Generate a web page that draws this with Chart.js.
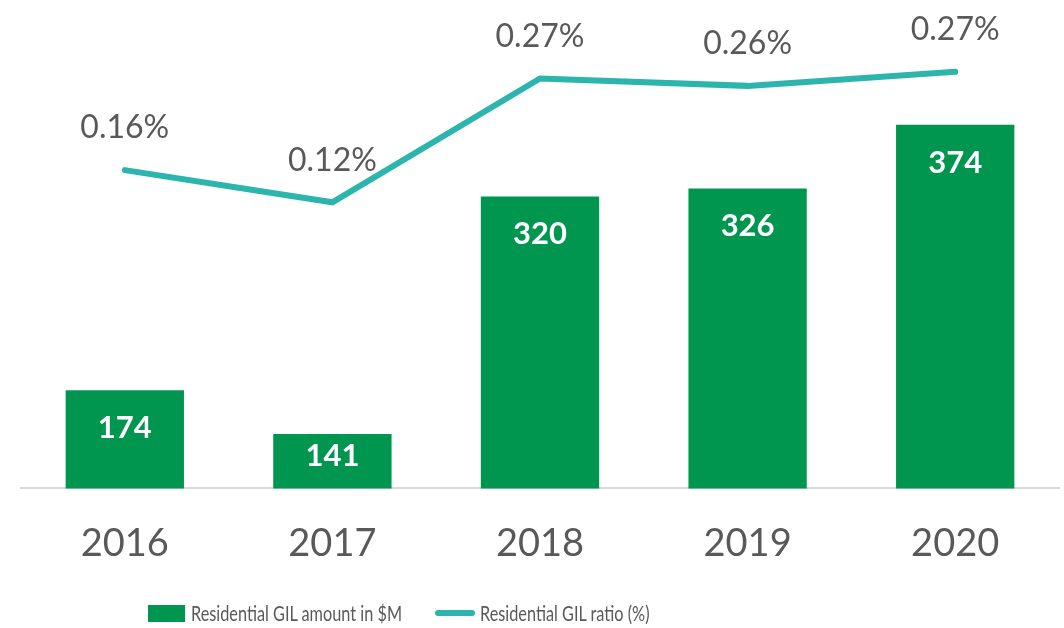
<!DOCTYPE html>
<html>
<head>
<meta charset="utf-8">
<script src="https://cdn.jsdelivr.net/npm/chart.js@4.4.1/dist/chart.umd.min.js"></script>
<style>
  html, body { margin: 0; padding: 0; background: #fff; }
  #wrap { position: relative; width: 1064px; height: 628px; }
  #legend { position: absolute; left: 0; top: 600px; width: 1064px; height: 26px;
            font-family: Lato, "Noto Sans", sans-serif; font-size: 22px; color: #595959; }
  .item { position: absolute; top: 0; height: 26px; line-height: 26px; white-space: nowrap;
          transform-origin: left center; transform: scaleX(0.74); }
  .swatch { position: absolute; }
</style>
</head>
<body>
<div id="wrap">
  <canvas id="chart" width="1064" height="628"></canvas>
  <div id="legend"></div>
</div>
<script>
const years = ['2016', '2017', '2018', '2019', '2020'];
const gilAmount = [174, 141, 320, 326, 374];
const gilRatio = [0.160, 0.121, 0.271, 0.262, 0.279];
const gilRatioLabels = ['0.16%', '0.12%', '0.27%', '0.26%', '0.27%'];

const barColor = '#00964f';
const lineColor = '#2bb5ad';
const textColor = '#595959';
const fontFamily = 'Lato, "Noto Sans", sans-serif';

const valueLabels = {
    id: 'valueLabels',
    afterDatasetsDraw(chart) {
        const ctx = chart.ctx;
        const bottom = chart.chartArea.bottom;
        ctx.save();
        ctx.textAlign = 'center';
        ctx.textBaseline = 'middle';

        // bar labels, white, inside the top of each bar
        const barMeta = chart.getDatasetMeta(1);
        ctx.fillStyle = '#ffffff';
        ctx.font = 'bold 31px ' + fontFamily;
        barMeta.data.forEach((bar, i) => {
            const mid = (bar.y + bottom) / 2 - 5;
            const y = Math.min(bar.y + 38, mid);
            ctx.fillText(String(gilAmount[i]), bar.x, y);
        });

        // line labels above each point
        const lineMeta = chart.getDatasetMeta(0);
        ctx.fillStyle = textColor;
        ctx.font = '32px ' + fontFamily;
        lineMeta.data.forEach((pt, i) => {
            ctx.fillText(gilRatioLabels[i], pt.x, pt.y - 42);
        });
        ctx.restore();
    }
};

new Chart(document.getElementById('chart'), {
    data: {
        labels: years,
        datasets: [{
            type: 'line',
            label: 'Residential GIL ratio (%)',
            data: gilRatio,
            yAxisID: 'y1',
            borderColor: lineColor,
            backgroundColor: lineColor,
            borderWidth: 6,
            borderCapStyle: 'round',
            borderJoinStyle: 'miter',
            pointRadius: 0,
            tension: 0,
            order: 0
        }, {
            type: 'bar',
            label: 'Residential GIL amount in $M',
            data: gilAmount,
            yAxisID: 'y',
            backgroundColor: barColor,
            barPercentage: 0.57,
            categoryPercentage: 1,
            order: 1
        }]
    },
    options: {
        responsive: false,
        animation: false,
        layout: { padding: { left: 21, right: 5, top: 0, bottom: 28 } },
        plugins: {
            legend: { display: false },
            tooltip: { enabled: false }
        },
        scales: {
            x: {
                grid: { display: false, drawTicks: false },
                border: { display: true, color: '#d9d9d9', width: 2 },
                ticks: {
                    color: textColor,
                    padding: 33,
                    font: { family: fontFamily, size: 38 }
                }
            },
            y: { display: false, min: 100, max: 468 },
            y1: { display: false, min: -0.2255, max: 0.366 }
        }
    },
    plugins: [valueLabels]
});

const legend = document.getElementById('legend');
legend.innerHTML =
    '<div class="swatch" style="left:148px;top:5px;width:37px;height:17px;background:' + barColor + '"></div>' +
    '<div class="item" style="left:191px">Residential GIL amount in $M</div>' +
    '<div class="swatch" style="left:435px;top:10px;width:40px;height:6px;border-radius:3px;background:' + lineColor + '"></div>' +
    '<div class="item" style="left:480px">Residential GIL ratio (%)</div>';
</script>
</body>
</html>
